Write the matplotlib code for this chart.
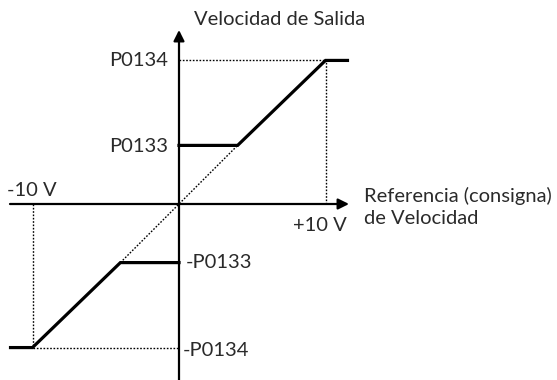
import matplotlib.pyplot as plt

# data (reference in volts, speed drawn on the same scale)
ref_min, ref_max = -10, 10
p0133 = 4.0
p0134 = 9.8
ref_pos = [0, 4.0, 10, 11.5]
speed_pos = [p0133, p0133, p0134, p0134]
ref_neg = [-11.5, -10, -4.0, 0]
speed_neg = [-p0134, -p0134, -p0133, -p0133]
diag_ref = [-4.0, 4.0]
diag_speed = [-p0133, p0133]

plt.rcParams['font.family'] = ['Lato', 'DejaVu Sans']

fig = plt.figure(figsize=(5.57, 3.80), dpi=100)
ax = fig.add_axes([0, 0, 1, 1])
px = 14.65
ax.set_xlim(-179 / px, (557 - 179) / px)
ax.set_ylim(-(380 - 204) / px, 204 / px)
ax.axis('off')

# axes with arrows
ax.annotate('', xy=(0, 174 / px), xytext=(0, -13),
            arrowprops=dict(arrowstyle='-|>', lw=1.6, color='black', mutation_scale=16, shrinkA=0, shrinkB=0))
ax.annotate('', xy=(170 / px, 0), xytext=(-169 / px, 0),
            arrowprops=dict(arrowstyle='-|>', lw=1.6, color='black', mutation_scale=16, shrinkA=0, shrinkB=0))

# dotted guides
dot = dict(color='black', lw=1.0, ls=(0, (1.2, 1.2)))
ax.plot([0, ref_max], [p0134, p0134], **dot)
ax.plot([ref_max, ref_max], [0, p0134], **dot)
ax.plot([ref_min, ref_min], [0, -p0134], **dot)
ax.plot([ref_min, 0], [-p0134, -p0134], **dot)
ax.plot(diag_ref, diag_speed, **dot)

# curve
ax.plot(ref_pos, speed_pos, color='black', lw=2.3, solid_joinstyle='miter')
ax.plot(ref_neg, speed_neg, color='black', lw=2.3, solid_joinstyle='miter')

fs = 14.5
def t(x, y, s, **kw):
    ax.text((x - 179) / px, (204 - y) / px, s, fontsize=fs, color='#2a2a2a', **kw)

t(194, 20, 'Velocidad de Salida', ha='left', va='center')
t(168, 61, 'P0134', ha='right', va='center')
t(168, 147, 'P0133', ha='right', va='center')
t(7, 191, '-10 V', ha='left', va='center')
t(347, 226, '+10 V', ha='right', va='center')
t(364, 196, 'Referencia (consigna)', ha='left', va='center')
t(364, 219, 'de Velocidad', ha='left', va='center')
t(186, 263, '-P0133', ha='left', va='center')
t(183, 350, '-P0134', ha='left', va='center')

fig.savefig('out.png', dpi=100)
